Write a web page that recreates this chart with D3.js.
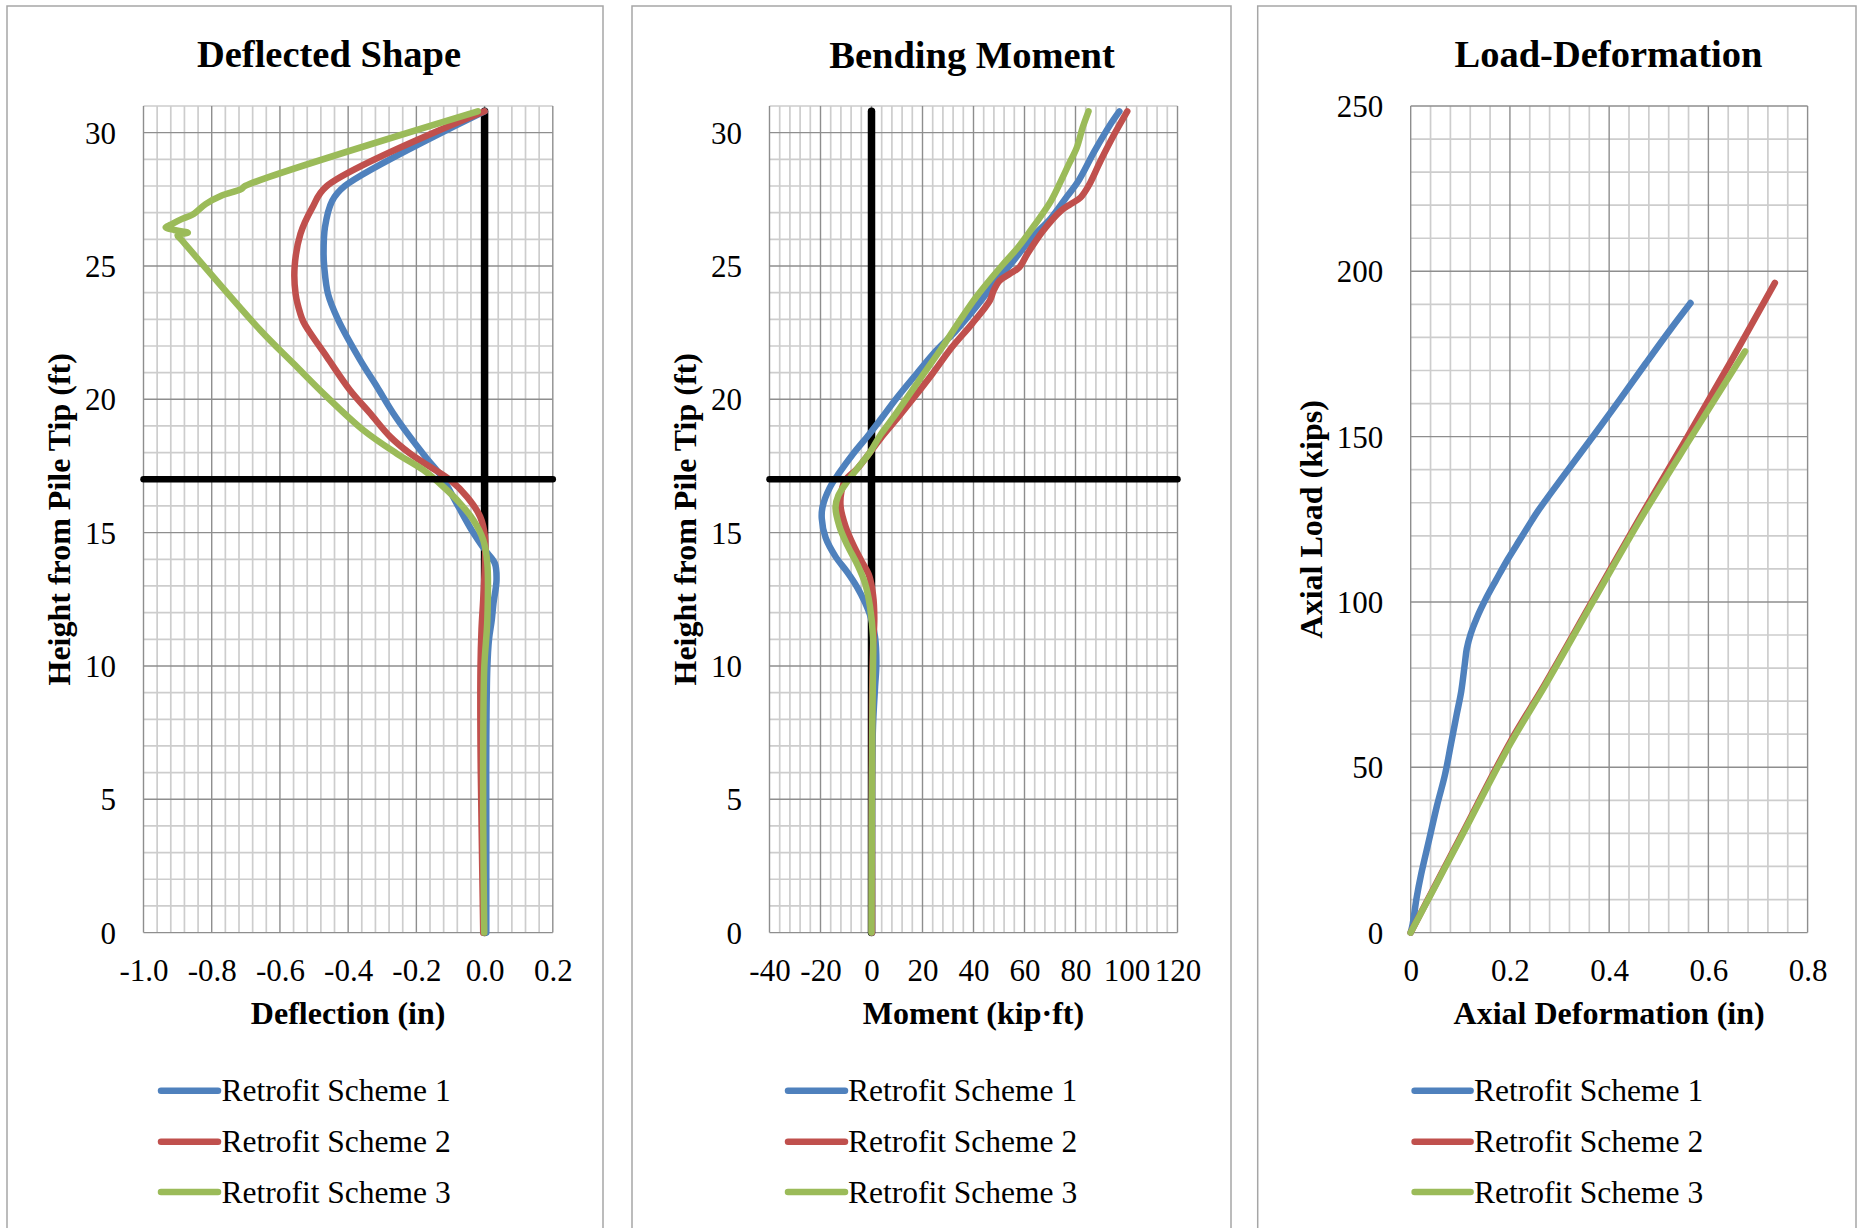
<!DOCTYPE html>
<html>
<head>
<meta charset="utf-8">
<script src="https://cdn.jsdelivr.net/npm/d3@7"></script>
<style>
  html, body { margin: 0; padding: 0; background: #ffffff; }
  svg { display: block; }
</style>
</head>
<body>
<svg id="chart" width="1858" height="1228"></svg>
<script>
// ---------- series ----------
const schemeNames  = ["Retrofit Scheme 1", "Retrofit Scheme 2", "Retrofit Scheme 3"];
const schemeColors = ["#4f81bd", "#c0504d", "#9bbb59"];

// Deflected shape: [deflection (in), height from pile tip (ft)]
const deflectionScheme1 = [
  [0.0, 30.8], [-0.41, 28.0], [-0.447, 27.44], [-0.468, 26.45], [-0.472, 25.45], [-0.47, 24.95],
  [-0.459, 23.95], [-0.43, 23.0], [-0.365, 21.48], [-0.316, 20.48], [-0.268, 19.48], [-0.219, 18.6],
  [-0.17, 17.79], [-0.126, 17.1], [-0.082, 16.1], [-0.038, 15.1], [0.001, 14.35], [0.03, 13.85],
  [0.035, 13.22], [0.026, 12.35], [0.021, 11.72], [0.013, 11.0], [0.008, 9.93], [0.005, 7.06],
  [0.005, 4.19], [0.005, 0.0]
];
const deflectionScheme2 = [
  [0.0, 30.8], [-0.464, 27.98], [-0.505, 27.19], [-0.54, 26.2], [-0.557, 24.95], [-0.554, 23.95],
  [-0.54, 23.2], [-0.531, 22.9], [-0.517, 22.6], [-0.463, 21.6], [-0.395, 20.35], [-0.336, 19.48],
  [-0.277, 18.6], [-0.219, 17.97], [-0.16, 17.47], [-0.101, 16.97], [-0.052, 16.35], [-0.013, 15.6],
  [0.001, 14.85], [0.001, 13.85], [-0.004, 12.5], [-0.009, 11.37], [-0.012, 9.93], [-0.012, 7.06],
  [-0.009, 4.2], [-0.004, 0.0]
];
const deflectionScheme3 = [
  [-0.02, 30.8], [-0.702, 28.0], [-0.714, 27.88], [-0.772, 27.63], [-0.818, 27.32], [-0.853, 26.95],
  [-0.89, 26.75], [-0.92, 26.55], [-0.935, 26.45], [-0.91, 26.35], [-0.87, 26.25], [-0.9, 26.15],
  [-0.89, 26.0], [-0.658, 22.6], [-0.561, 21.35], [-0.463, 20.1], [-0.356, 18.85], [-0.258, 17.97],
  [-0.18, 17.35], [-0.121, 16.72], [-0.072, 16.1], [-0.033, 15.47], [-0.004, 14.72], [0.008, 13.85],
  [0.008, 11.72], [-0.001, 9.93], [-0.004, 7.06], [-0.004, 4.19], [-0.001, 0.0]
];

// Bending moment: [moment (kip·ft), height from pile tip (ft)]
const momentScheme1 = [
  [97.2, 30.8], [93.6, 30.3], [87.4, 29.3], [81.2, 28.2], [76.6, 27.6], [70.4, 26.8], [63.0, 26.07],
  [54.0, 25.0], [49.0, 24.45], [40.9, 23.45], [33.2, 22.58], [25.4, 21.83], [17.7, 20.96], [9.9, 20.05],
  [3.7, 19.26], [-0.9, 18.69], [-7.1, 17.97], [-12.6, 17.25], [-16.4, 16.68], [-19.2, 15.96],
  [-19.5, 15.53], [-18.0, 14.81], [-14.1, 14.1], [-9.5, 13.52], [-5.6, 12.95], [-2.5, 12.37],
  [-0.2, 11.8], [1.4, 11.08], [1.9, 10.08], [1.4, 9.22], [0.6, 7.78], [0.2, 5.63], [0.2, 0.0]
];
const momentScheme2 = [
  [100.3, 30.8], [95.2, 29.94], [89.8, 28.94], [85.1, 28.0], [82.0, 27.57], [78.1, 27.32], [74.3, 27.07],
  [67.3, 26.32], [61.1, 25.45], [58.0, 24.95], [54.1, 24.7], [50.2, 24.45], [47.9, 24.08], [46.4, 23.7],
  [39.4, 22.83], [31.6, 21.96], [23.9, 20.96], [16.1, 20.0], [9.9, 19.26], [3.7, 18.55], [-0.9, 17.97],
  [-5.6, 17.4], [-10.2, 16.97], [-11.8, 16.54], [-12.1, 15.96], [-10.2, 15.24], [-7.1, 14.53],
  [-4.0, 13.95], [-0.9, 13.38], [0.6, 12.66], [1.1, 11.8], [0.6, 10.65], [0.2, 8.5], [0.2, 0.0]
];
const momentScheme3 = [
  [85.1, 30.8], [82.8, 30.19], [80.5, 29.44], [77.4, 28.82], [74.3, 28.19], [70.4, 27.44], [64.2, 26.57],
  [57.5, 25.7], [51.0, 25.0], [41.0, 23.83], [34.7, 22.96], [27.8, 21.96], [20.5, 20.96], [13.5, 20.0],
  [8.4, 19.3], [3.7, 18.69], [-0.9, 17.97], [-5.6, 17.4], [-10.2, 16.82], [-13.0, 16.39], [-14.1, 15.96],
  [-12.6, 15.24], [-9.5, 14.53], [-5.6, 13.81], [-2.5, 13.09], [-0.6, 12.23], [0.6, 11.08], [0.6, 9.93],
  [0.3, 7.78], [0.0, 0.0]
];

// Load-deformation: [axial deformation (in), axial load (kips)]
const loadScheme1 = [
  [0, 0], [0.004, 2.6], [0.012, 10.6], [0.021, 17.6], [0.037, 28.0], [0.053, 38.4], [0.069, 47.7],
  [0.081, 56.9], [0.093, 66.2], [0.102, 73.1], [0.109, 81.2], [0.113, 85.8], [0.121, 90.4],
  [0.133, 95.1], [0.153, 101.4], [0.172, 106.6], [0.196, 113.0], [0.22, 118.8], [0.244, 124.6],
  [0.256, 127.4], [0.307, 137.9], [0.371, 150.8], [0.423, 161.5], [0.474, 172.2], [0.522, 182.1],
  [0.564, 190.4]
];
const loadScheme2 = [
  [0, 0], [0.05, 14.5], [0.1, 28.8], [0.2, 57.5], [0.27, 75], [0.365, 100], [0.46, 125],
  [0.558, 150], [0.65, 174], [0.734, 196.5]
];
const loadScheme3 = [
  [0, 0], [0.05, 14.2], [0.1, 28.4], [0.2, 56.9], [0.272, 75], [0.367, 100], [0.463, 125],
  [0.566, 150], [0.674, 175.8]
];

// Reference lines: pile axis and ground line
const pileAxisLine     = [[0, 0], [0, 30.8]];
const groundLineDefl   = [[-1.0, 17], [0.2, 17]];
const groundLineMoment = [[-40, 17], [120, 17]];

// ---------- axes ----------
const heightTicks     = [0, 5, 10, 15, 20, 25, 30];
const deflectionTicks = [-1.0, -0.8, -0.6, -0.4, -0.2, 0.0, 0.2];
const momentTicks     = [-40, -20, 0, 20, 40, 60, 80, 100, 120];
const loadTicks       = [0, 50, 100, 150, 200, 250];
const axialDefTicks   = [0, 0.2, 0.4, 0.6, 0.8];

const FONT = '"Liberation Serif", "Times New Roman", Times, serif';
const svg = d3.select("#chart");

const panels = [
  {
    frame: [7, 603], title: "Deflected Shape", titleX: 329, titleY: 67,
    left: 143.5, right: 552.8, top: 106, bottom: 932.6,
    xDomain: [-1.0, 0.2], xMinor: 0.04, yDomain: [0, 31], yMinor: 1,
    xTicks: deflectionTicks, yTicks: heightTicks,
    xFmt: d => d.toFixed(1), yFmt: d => String(d),
    xLabel: "Deflection (in)", yLabel: "Height from Pile Tip (ft)", yLabelX: 70.4,
    series: [deflectionScheme1, deflectionScheme2, deflectionScheme3],
    under: [pileAxisLine], over: [groundLineDefl],
    legendX: [161, 218, 221.5]
  },
  {
    frame: [632, 1231], title: "Bending Moment", titleX: 972, titleY: 68,
    left: 769.5, right: 1177.5, top: 106, bottom: 932.6,
    xDomain: [-40, 120], xMinor: 4, yDomain: [0, 31], yMinor: 1,
    xTicks: momentTicks, yTicks: heightTicks,
    xFmt: d => String(d), yFmt: d => String(d),
    xLabel: "Moment (kip·ft)", yLabel: "Height from Pile Tip (ft)", yLabelX: 695.9,
    series: [momentScheme1, momentScheme2, momentScheme3],
    under: [pileAxisLine], over: [groundLineMoment],
    legendX: [788, 845, 848]
  },
  {
    frame: [1257.7, 1856], title: "Load-Deformation", titleX: 1608.5, titleY: 67,
    left: 1410.7, right: 1807.6, top: 106, bottom: 932.6,
    xDomain: [0, 0.8], xMinor: 0.04, yDomain: [0, 250], yMinor: 10,
    xTicks: axialDefTicks, yTicks: loadTicks,
    xFmt: d => (d === 0 ? "0" : d.toFixed(1)), yFmt: d => String(d),
    xLabel: "Axial Deformation (in)", yLabel: "Axial Load (kips)", yLabelX: 1321.6,
    series: [loadScheme1, loadScheme2, loadScheme3],
    under: [], over: [],
    legendX: [1414.6, 1470.6, 1474]
  }
];

const legendRows = [1090.7, 1141.7, 1192];

function drawPanel(p) {
  const x = d3.scaleLinear().domain(p.xDomain).range([p.left, p.right]);
  const y = d3.scaleLinear().domain(p.yDomain).range([p.bottom, p.top]);
  const g = svg.append("g").attr("font-family", FONT).attr("fill", "#000");

  // chart frame
  g.append("rect")
    .attr("x", p.frame[0]).attr("y", 6)
    .attr("width", p.frame[1] - p.frame[0]).attr("height", 1300)
    .attr("fill", "#fff").attr("stroke", "#a6a6a6").attr("stroke-width", 1.5);

  // gridlines: minor every step, major every fifth step
  const nx = Math.round((p.xDomain[1] - p.xDomain[0]) / p.xMinor);
  const ny = Math.round((p.yDomain[1] - p.yDomain[0]) / p.yMinor);
  const gx = d3.range(nx + 1).map(i => ({ v: p.xDomain[0] + i * p.xMinor, major: i % 5 === 0 }));
  const gy = d3.range(ny + 1).map(i => ({ v: p.yDomain[0] + i * p.yMinor, major: i % 5 === 0 }));
  const grid = g.append("g");
  [false, true].forEach(isMajor => {
    const stroke = isMajor ? "#8e8e8e" : "#cdcdcd";
    const sw = isMajor ? 1.4 : 1.7;
    grid.selectAll(null).data(gx.filter(d => d.major === isMajor)).join("line")
      .attr("x1", d => x(d.v)).attr("x2", d => x(d.v))
      .attr("y1", p.top).attr("y2", p.bottom)
      .attr("stroke", stroke).attr("stroke-width", sw);
    grid.selectAll(null).data(gy.filter(d => d.major === isMajor)).join("line")
      .attr("y1", d => y(d.v)).attr("y2", d => y(d.v))
      .attr("x1", p.left).attr("x2", p.right)
      .attr("stroke", stroke).attr("stroke-width", sw);
  });

  // tick labels
  const ax = g.append("g").attr("transform", `translate(0,${p.bottom})`)
    .call(d3.axisBottom(x).tickValues(p.xTicks).tickFormat(p.xFmt).tickSize(0).tickPadding(0));
  ax.select(".domain").remove();
  ax.attr("font-family", FONT).attr("font-size", 31);
  ax.selectAll("text").attr("y", 38).attr("dy", "0.34em").attr("fill", "#000");

  const ay = g.append("g").attr("transform", `translate(${p.left},0)`)
    .call(d3.axisLeft(y).tickValues(p.yTicks).tickFormat(p.yFmt).tickSize(0).tickPadding(27.5));
  ay.select(".domain").remove();
  ay.attr("font-family", FONT).attr("font-size", 31);
  ay.selectAll("text").attr("dy", "0.34em").attr("fill", "#000");

  // titles
  g.append("text").attr("x", p.titleX).attr("y", p.titleY)
    .attr("text-anchor", "middle").attr("font-size", 38.5).attr("font-weight", "bold")
    .text(p.title);
  g.append("text").attr("x", (p.left + p.right) / 2).attr("y", 1024)
    .attr("text-anchor", "middle").attr("font-size", 32).attr("font-weight", "bold")
    .text(p.xLabel);
  g.append("text")
    .attr("transform", `translate(${p.yLabelX},${(p.top + p.bottom) / 2}) rotate(-90)`)
    .attr("text-anchor", "middle").attr("font-size", 32).attr("font-weight", "bold")
    .text(p.yLabel);

  const straight = d3.line().x(d => x(d[0])).y(d => y(d[1]));
  const smooth = d3.line().x(d => x(d[0])).y(d => y(d[1])).curve(d3.curveCatmullRom.alpha(0.5));

  p.under.forEach(l => g.append("path").attr("d", straight(l)).attr("fill", "none")
    .attr("stroke", "#000").attr("stroke-width", 7.5).attr("stroke-linecap", "round"));

  p.series.forEach((s, i) => g.append("path").attr("d", smooth(s)).attr("fill", "none")
    .attr("stroke", schemeColors[i]).attr("stroke-width", 6.5)
    .attr("stroke-linecap", "round").attr("stroke-linejoin", "round"));

  p.over.forEach(l => g.append("path").attr("d", straight(l)).attr("fill", "none")
    .attr("stroke", "#000").attr("stroke-width", 6.5).attr("stroke-linecap", "round"));

  // legend
  schemeNames.forEach((name, i) => {
    const ly = legendRows[i];
    g.append("line").attr("x1", p.legendX[0]).attr("x2", p.legendX[1])
      .attr("y1", ly).attr("y2", ly)
      .attr("stroke", schemeColors[i]).attr("stroke-width", 6.5).attr("stroke-linecap", "round");
    g.append("text").attr("x", p.legendX[2]).attr("y", ly).attr("dy", "0.34em")
      .attr("font-size", 31.5).text(name);
  });
}

panels.forEach(drawPanel);
</script>
</body>
</html>
